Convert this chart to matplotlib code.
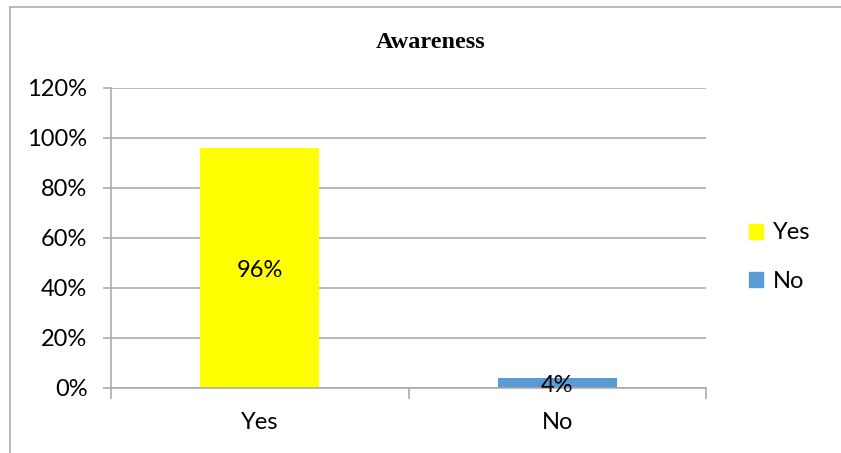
import matplotlib.pyplot as plt
from matplotlib.lines import Line2D
from matplotlib.ticker import MultipleLocator, FuncFormatter

categories = ['Yes', 'No']
values = [96, 4]
colors = ['#FFFF00', '#5B9BD5']
grid_color = '#A6A6A6'

plt.rcParams['font.family'] = ['Lato', 'DejaVu Sans']

fig = plt.figure(figsize=(8.41, 4.53), dpi=100)
ax = fig.add_axes([111 / 841, 1 - 388 / 453, 595 / 841, 300 / 453])

x = range(len(categories))
bars = ax.bar(x, values, width=0.4, color=colors, zorder=2)
for b, v in zip(bars, values):
    ax.text(b.get_x() + b.get_width() / 2, v / 2 - 1, '%d%%' % v,
            ha='center', va='center', fontsize=17, zorder=3)

ax.set_xlim(-0.5, 1.5)
ax.set_ylim(0, 120)
ax.yaxis.set_major_locator(MultipleLocator(20))
ax.yaxis.set_major_formatter(FuncFormatter(lambda v, p: '%d%%' % v))
ax.grid(axis='y', color=grid_color, linewidth=1.1, zorder=0)
ax.set_axisbelow(True)

ax.set_xticks([0, 1])
ax.set_xticklabels(categories)
ax.set_xticks([-0.5, 0.5, 1.5], minor=True)
ax.tick_params(axis='x', which='major', length=0, pad=17, labelsize=17)
ax.tick_params(axis='x', which='minor', length=8, color=grid_color, width=1.1)
ax.tick_params(axis='y', length=6, color=grid_color, width=1.1, labelsize=17, pad=11)

for s in ['top', 'right']:
    ax.spines[s].set_visible(False)
for s in ['left', 'bottom']:
    ax.spines[s].set_color(grid_color)
    ax.spines[s].set_linewidth(1.1)

handles = [plt.Rectangle((0, 0), 1, 1, color=c) for c in colors]
fig.legend(handles, categories, loc='center left', bbox_to_anchor=(728 / 841, 1 - 257 / 453),
           frameon=False, fontsize=17, handlelength=0.6, handleheight=0.6,
           handletextpad=0.4, labelspacing=1.15)

fig.text(431 / 841, 1 - 42 / 453, 'Awareness', ha='center', va='center',
         fontsize=17.5, fontweight='bold', family='Liberation Serif')

# outer frame (top and left edges visible)
fig.add_artist(Line2D([9.5 / 841, 9.5 / 841], [0, 1 - 7 / 453], transform=fig.transFigure,
                      color=grid_color, linewidth=1.1))
fig.add_artist(Line2D([9.5 / 841, 1], [1 - 7 / 453, 1 - 7 / 453], transform=fig.transFigure,
                      color=grid_color, linewidth=1.1))

fig.savefig('out.png', dpi=100)
